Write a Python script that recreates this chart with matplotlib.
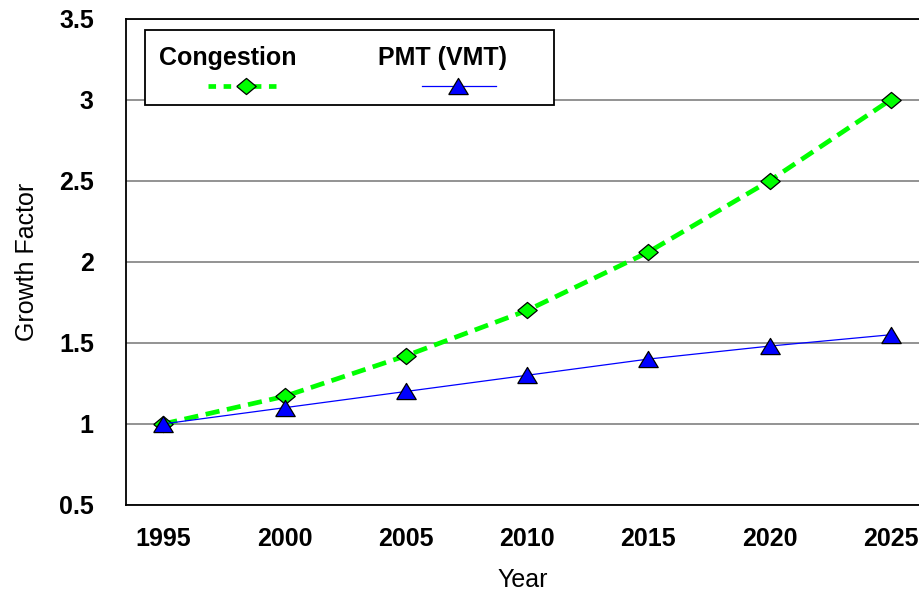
import matplotlib
matplotlib.use("Agg")
import matplotlib.pyplot as plt
from matplotlib.patches import Rectangle
from matplotlib.lines import Line2D

years = [1995, 2000, 2005, 2010, 2015, 2020, 2025]
congestion = [1.0, 1.17, 1.42, 1.70, 2.06, 2.50, 3.00]
pmt_vmt = [1.0, 1.10, 1.20, 1.30, 1.40, 1.48, 1.55]
y_ticks = [0.5, 1, 1.5, 2, 2.5, 3, 3.5]
y_tick_labels = ["0.5", "1", "1.5", "2", "2.5", "3", "3.5"]
series_names = ["Congestion", "PMT (VMT)"]

plt.rcParams['font.family'] = ['Liberation Sans', 'DejaVu Sans']

W, H = 919, 591
fig = plt.figure(figsize=(W / 100, H / 100), dpi=100)
ax = fig.add_axes([125.7 / W, 1 - 505 / H, 1 - 125.7 / W, (505 - 18.5) / H])

diamond = [(-1, 0), (0, 0.83), (1, 0), (0, -0.83), (-1, 0)]
tri = [(-1, -0.83), (1, -0.83), (0, 0.83), (-1, -0.83)]

green = '#00FF00'
blue = '#0000FF'
FS = 18

ax.plot(years, congestion, color=green, lw=3.4, dashes=(3.0, 1.6),
        marker=diamond, ms=14, mfc=green, mec='black', mew=0.9,
        zorder=4, clip_on=False)
ax.plot(years, pmt_vmt, color=blue, lw=0.9,
        marker=tri, ms=14, mfc=blue, mec='black', mew=0.9,
        zorder=5, clip_on=False)

ax.set_xlim(1995 - 37.6 * 5 / 121.3, 2025 + 28 * 5 / 121.3)
ax.set_ylim(0.5, 3.5)
ax.set_xticks(years)
ax.set_xticklabels([str(y) for y in years], fontsize=FS, fontweight='bold')
ax.set_yticks(y_ticks)
ax.set_yticklabels(y_tick_labels, fontsize=FS, fontweight='bold')
ax.tick_params(axis='both', length=0)
ax.tick_params(axis='y', pad=23)
ax.tick_params(axis='x', pad=16)

ax.grid(axis='y', color='#808080', lw=1.2)
ax.set_axisbelow(True)
for s in ['left', 'bottom', 'top']:
    ax.spines[s].set_color('black')
    ax.spines[s].set_linewidth(1.3)
ax.spines['right'].set_visible(False)

ax.set_ylabel("Growth Factor", fontsize=FS, labelpad=14)
ax.set_xlabel("Year", fontsize=FS, labelpad=12)

# Legend (manual, text above handles)
def fx(x):
    return x / W

def fy(y):
    return 1 - y / H

box = Rectangle((fx(145), fy(105)), fx(554) - fx(145), fy(30) - fy(105),
                transform=fig.transFigure, facecolor='white', edgecolor='black',
                lw=1.3, zorder=10)
fig.add_artist(box)
fig.text(fx(228), fy(58), series_names[0], fontsize=FS, fontweight='bold',
         ha='center', va='center', zorder=11)
fig.text(fx(442), fy(58), series_names[1], fontsize=FS, fontweight='bold',
         ha='center', va='center', zorder=11)
fig.add_artist(Line2D([fx(208), fx(283)], [fy(85.5), fy(85.5)], transform=fig.transFigure,
                      color=green, lw=3.4, dashes=(1.6, 1.6), zorder=11))
fig.add_artist(Line2D([fx(245.5)], [fy(85.5)], transform=fig.transFigure, ls='none',
                      marker=diamond, ms=14, mfc=green, mec='black', mew=0.9, zorder=12))
fig.add_artist(Line2D([fx(422), fx(496)], [fy(85.5), fy(85.5)], transform=fig.transFigure,
                      color=blue, lw=0.9, zorder=11))
fig.add_artist(Line2D([fx(458)], [fy(85.5)], transform=fig.transFigure, ls='none',
                      marker=tri, ms=14, mfc=blue, mec='black', mew=0.9, zorder=12))

fig.savefig("out.png", dpi=100)
